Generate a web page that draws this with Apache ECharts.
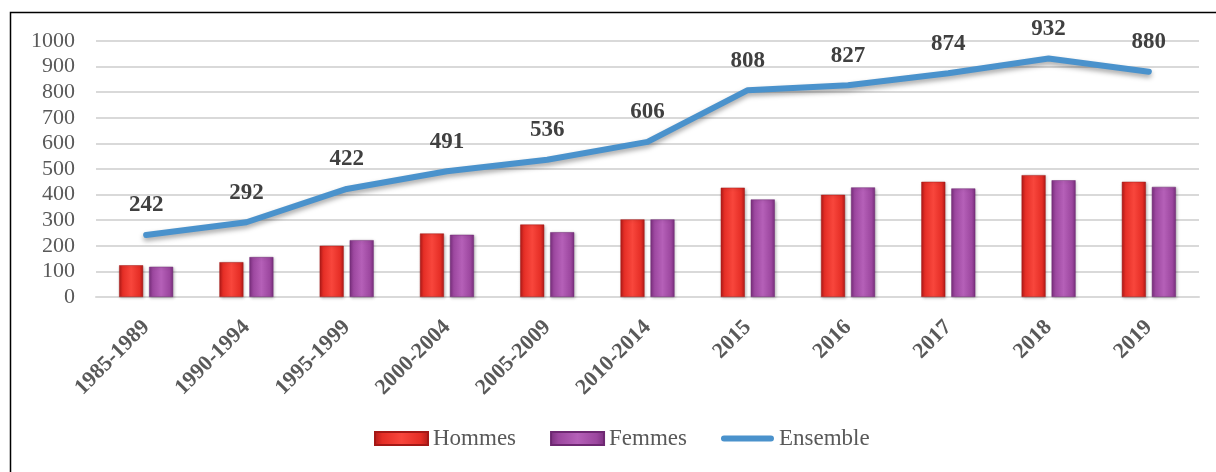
<!DOCTYPE html>
<html>
<head>
<meta charset="utf-8">
<script src="https://cdn.jsdelivr.net/npm/echarts@6/dist/echarts.min.js"></script>
<style>
  html, body { margin: 0; padding: 0; background: #fff; }
  #chart { width: 1216px; height: 472px; }
</style>
</head>
<body>
<div id="chart"></div>
<script>
// catégories
var categories = ['1985-1989','1990-1994','1995-1999','2000-2004','2005-2009','2010-2014','2015','2016','2017','2018','2019']
var hommes = [124,136,200,248,283,303,427,399,450,476,450]
var femmes = [118,156,222,243,253,303,381,428,424,456,430]
var ensemble = [242,292,422,491,536,606,808,827,874,932,880]
var yTicks = [0,100,200,300,400,500,600,700,800,900,1000]

var font = '"Liberation Serif", "Times New Roman", serif'
var blue = '#4a92cc'

function barGrad(dark, mid, light){
  return new echarts.graphic.LinearGradient(0,0,1,0,[
    {offset:0, color:dark},
    {offset:0.15, color:mid},
    {offset:0.5, color:light},
    {offset:0.85, color:mid},
    {offset:1, color:dark}
  ])
}

var myChart = echarts.init(document.getElementById('chart'))
myChart.setOption({
  animation:false,
  backgroundColor:'#fff',
  textStyle:{ fontFamily:font },
  graphic:[
    { type:'polyline', shape:{ points:[[10.5,472],[10.5,12.5],[1216,12.5]] },
      style:{ stroke:'#000', lineWidth:1.5, fill:null } }
  ],
  grid:{ left:96, right:17, top:41, bottom:175 },
  legend:{
    top:427,
    left:374,
    padding:0,
    itemGap:34,
    itemWidth:53,
    itemHeight:13,
    textStyle:{ fontFamily:font, fontSize:23, color:'#595959' },
    data:[
      { name:'Hommes', icon:'rect' },
      { name:'Femmes', icon:'rect' },
      { name:'Ensemble', icon:'path://M0,0 L0.01,0 M0,3 L54,3 A3.5,3.5 0 0 1 54,10 L0,10 A3.5,3.5 0 0 1 0,3 Z M0,13 L0.01,13',
        itemStyle:{ color:blue, opacity:1 } }
    ]
  },
  xAxis:{
    type:'category',
    data:categories,
    axisTick:{ show:false },
    axisLine:{ lineStyle:{ color:'#d9d9d9', width:2 } },
    axisLabel:{
      rotate:45,
      interval:0,
      margin:27,
      fontFamily:font,
      fontWeight:'bold',
      fontSize:22,
      color:'#595959'
    }
  },
  yAxis:{
    type:'value',
    min:yTicks[0],
    max:yTicks[yTicks.length-1],
    interval:100,
    axisLine:{ show:false },
    axisTick:{ show:false },
    splitLine:{ lineStyle:{ color:'#d9d9d9', width:2 } },
    axisLabel:{ margin:21, fontFamily:font, fontSize:22, color:'#595959', formatter:function(v){ return String(v) } }
  },
  series:[
    {
      name:'Hommes',
      type:'bar',
      data:hommes,
      barWidth:24,
      barGap:'25%',
      itemStyle:{
        color:barGrad('#b01a18','#e52e26','#f8463c'),
        borderColor:'#a41816',
        borderWidth:0.5,
        shadowColor:'rgba(0,0,0,0.25)',
        shadowBlur:3,
        shadowOffsetX:1,
        shadowOffsetY:1
      }
    },
    {
      name:'Femmes',
      type:'bar',
      data:femmes,
      barWidth:24,
      itemStyle:{
        color:barGrad('#7a2f7e','#9c479f','#b560b8'),
        borderColor:'#6e2872',
        borderWidth:0.5,
        shadowColor:'rgba(0,0,0,0.25)',
        shadowBlur:3,
        shadowOffsetX:1,
        shadowOffsetY:1
      }
    },
    {
      name:'Ensemble',
      type:'line',
      data:ensemble,
      symbol:'circle',
      symbolSize:2,
      showSymbol:true,
      itemStyle:{ color:'rgba(0,0,0,0)' },
      lineStyle:{
        color:blue,
        width:6,
        cap:'round',
        join:'round',
        shadowColor:'rgba(0,0,0,0.35)',
        shadowBlur:5,
        shadowOffsetY:3
      },
      label:{
        show:true,
        position:'top',
        distance:17,
        fontFamily:font,
        fontWeight:'bold',
        fontSize:23,
        color:'#404040'
      },
      z:5
    }
  ]
})
</script>
</body>
</html>
